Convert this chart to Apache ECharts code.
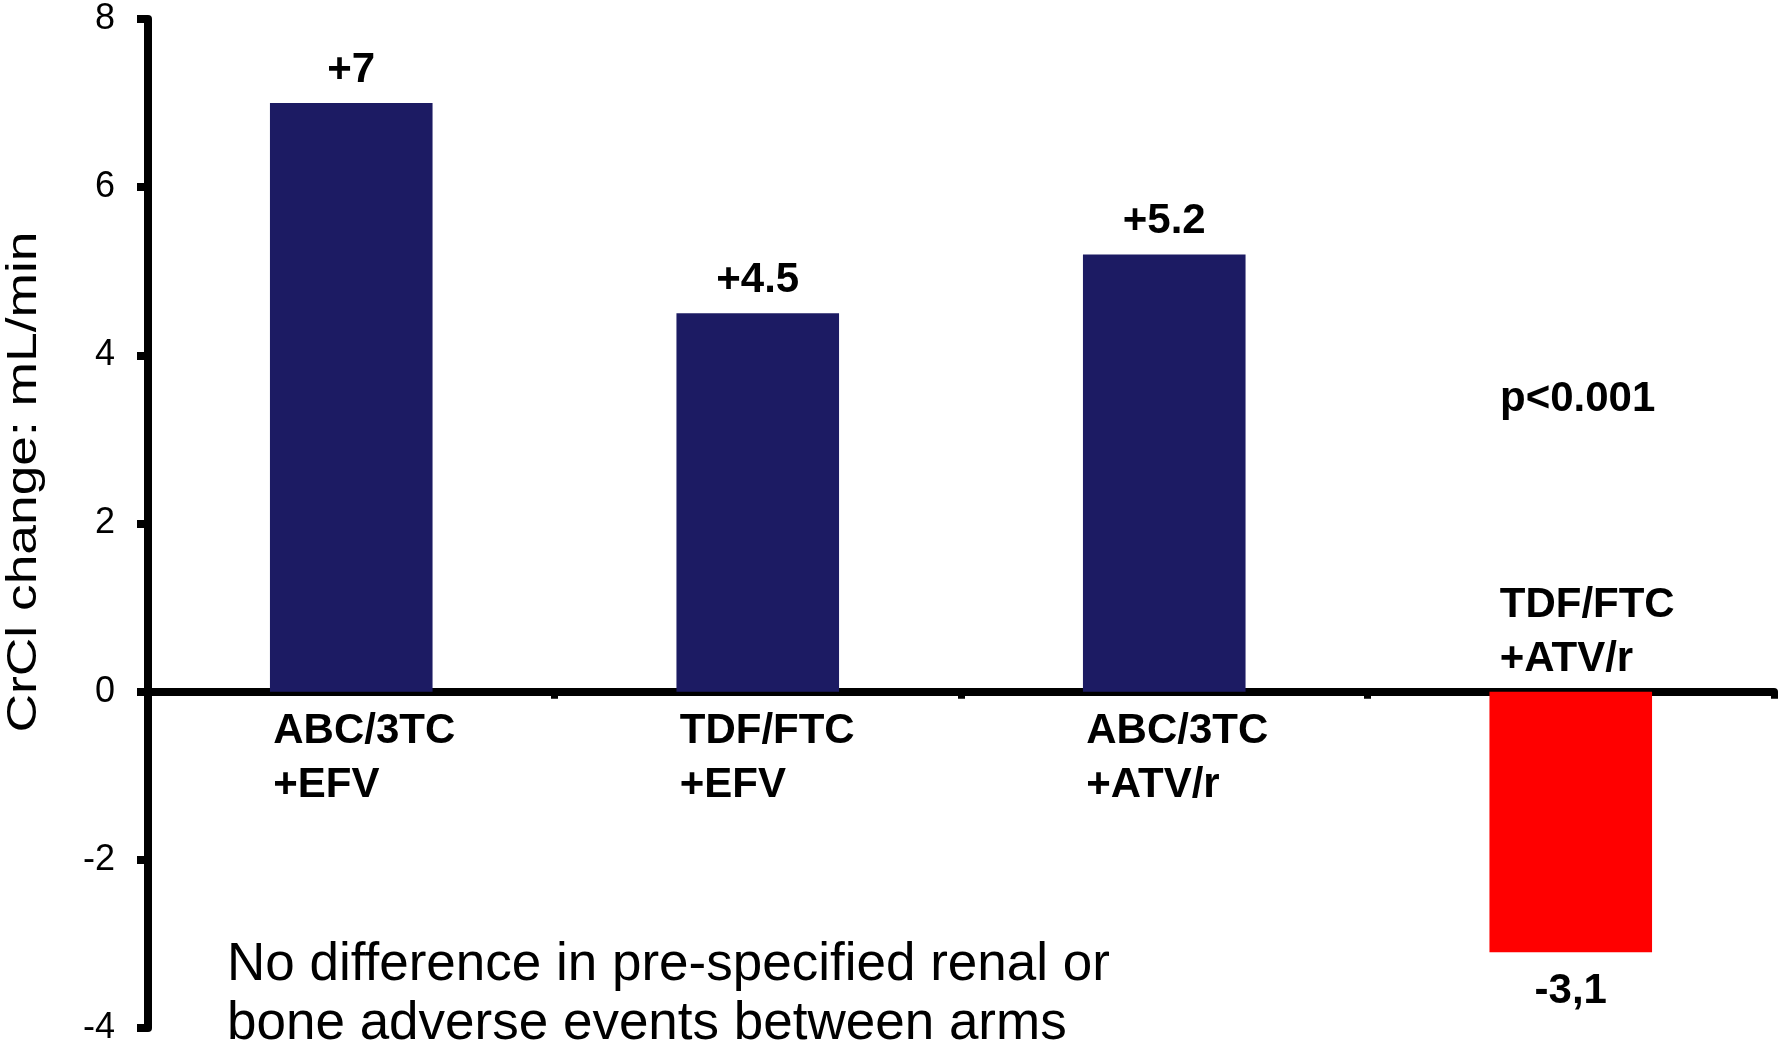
<!DOCTYPE html>
<html>
<head>
<meta charset="utf-8">
<script src="https://cdn.jsdelivr.net/npm/echarts@6/dist/echarts.min.js"></script>
<style>
  html, body { margin: 0; padding: 0; background: #ffffff; }
  #chart { width: 1778px; height: 1048px; }
</style>
</head>
<body>
<div id="chart"></div>
<script>
// Treatment arms and mean change in creatinine clearance (mL/min)
const regimens = ['ABC/3TC\n+EFV', 'TDF/FTC\n+EFV', 'ABC/3TC\n+ATV/r', 'TDF/FTC\n+ATV/r'];
const crclChange = [7, 4.5, 5.2, -3.1];
const valueLabels = ['+7', '+4.5', '+5.2', '-3,1'];
const yMin = -4, yMax = 8, yStep = 2;
const axisTitle = 'CrCl change: mL/min';
const pValueText = 'p<0.001';
const noteText = 'No difference in pre-specified renal or\nbone adverse events between arms';

const FONT = "'Liberation Sans', Arial, Helvetica, sans-serif";
const NAVY = '#1c1b63';
const RED = '#ff0000';

const chart = echarts.init(document.getElementById('chart'), null, { renderer: 'canvas' });

chart.setOption({
  animation: false,
  backgroundColor: '#ffffff',
  grid: { left: 148, right: 4, top: 19, bottom: 20, containLabel: false, outerBoundsMode: 'none' },
  xAxis: {
    type: 'category',
    data: regimens,
    axisLine: { show: true, onZero: true, lineStyle: { color: '#000', width: 8 } },
    axisTick: { show: true, length: 7, lineStyle: { color: '#000', width: 7 } },
    axisLabel: { show: false },
    splitLine: { show: false }
  },
  yAxis: {
    type: 'value',
    min: yMin,
    max: yMax,
    interval: yStep,
    axisLine: { show: true, lineStyle: { color: '#000', width: 8 } },
    axisTick: { show: true, length: 11, lineStyle: { color: '#000', width: 8 } },
    axisLabel: { color: '#000', fontSize: 36, fontFamily: FONT, margin: 33 },
    splitLine: { show: false }
  },
  series: [
    {
      name: 'CrCl change',
      type: 'bar',
      barCategoryGap: '60%',
      data: crclChange.map(v => ({
        value: v,
        itemStyle: { color: v < 0 ? RED : NAVY },
        label: { position: v < 0 ? 'bottom' : 'top', distance: v < 0 ? 18 : 12 }
      })),
      label: {
        show: true,
        formatter: p => valueLabels[p.dataIndex],
        color: '#000',
        fontSize: 42,
        fontWeight: 'bold',
        fontFamily: FONT
      },
      z: 1
    },
    {
      // arm names sitting on the zero line, left-aligned with each bar
      name: 'arm',
      type: 'scatter',
      symbolSize: 0,
      silent: true,
      itemStyle: { opacity: 1 },
      data: crclChange.map((v, i) => ({
        value: [i, 0],
        label: {
          position: v < 0 ? 'top' : 'bottom',
          distance: v < 0 ? 5 : 13,
          offset: [v < 0 ? -71 : -78, 0]
        }
      })),
      label: {
        show: true,
        formatter: p => regimens[p.dataIndex],
        align: 'left',
        color: '#000',
        fontSize: 42,
        lineHeight: 54,
        fontWeight: 'bold',
        fontFamily: FONT
      },
      z: 3
    }
  ],
  graphic: [
    {
      type: 'text',
      x: 24,
      y: 482,
      rotation: Math.PI / 2,
      scaleX: 1.27,
      style: {
        text: axisTitle,
        fontSize: 42,
        fontFamily: FONT,
        fill: '#000',
        align: 'center',
        verticalAlign: 'middle'
      }
    },
    {
      type: 'text',
      x: 1500,
      y: 378,
      style: {
        text: pValueText,
        fontSize: 42,
        fontWeight: 'bold',
        fontFamily: FONT,
        fill: '#000',
        align: 'left',
        verticalAlign: 'top'
      }
    },
    {
      type: 'text',
      x: 227,
      y: 936,
      style: {
        text: noteText,
        fontSize: 53,
        lineHeight: 59,
        fontFamily: FONT,
        fill: '#000',
        align: 'left',
        verticalAlign: 'top'
      }
    }
  ]
});
</script>
</body>
</html>
